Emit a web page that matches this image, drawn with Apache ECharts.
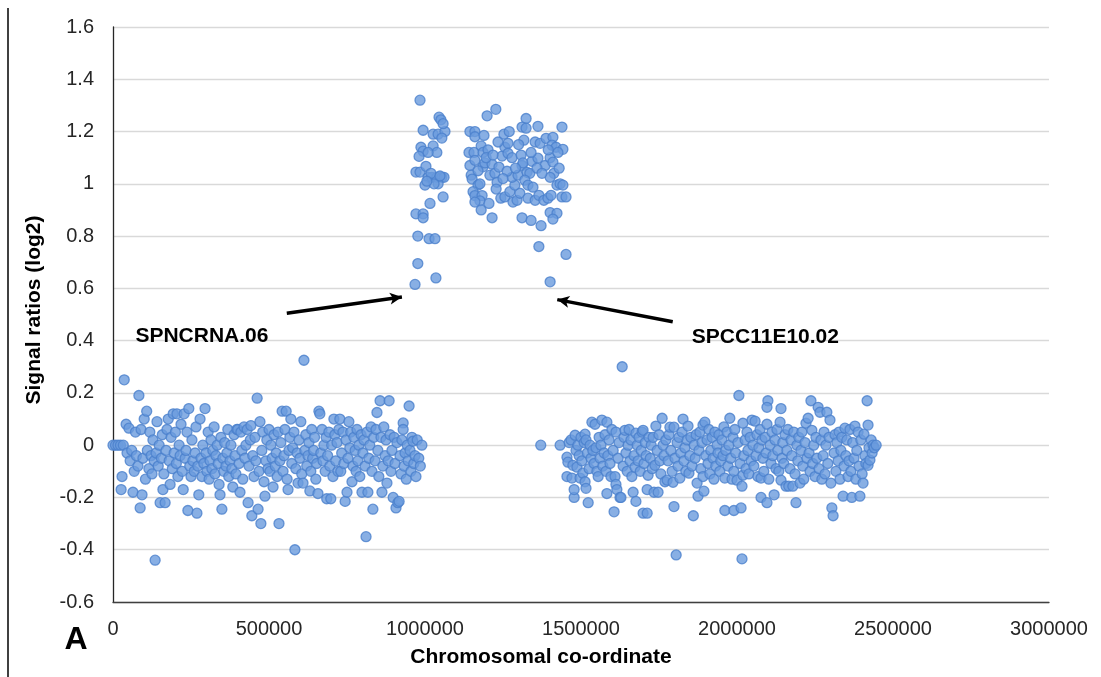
<!DOCTYPE html>
<html>
<head>
<meta charset="utf-8">
<script src="https://cdn.jsdelivr.net/npm/echarts@6/dist/echarts.min.js"></script>
<style>
html,body{margin:0;padding:0;background:#fff;}
#chart{width:1101px;height:677px;}
</style>
</head>
<body>
<div id="chart"></div>
<script>
// Axis ticks
const xTicks = [0, 500000, 1000000, 1500000, 2000000, 2500000, 3000000];
const yTicks = [-0.6, -0.4, -0.2, 0, 0.2, 0.4, 0.6, 0.8, 1, 1.2, 1.4, 1.6];

// [position in kb, signal ratio (log2)] - left arm of chromosome
const leftCluster = [
[0,0],[8,0],[16,0],[24,0],[33,0],[36,0.25],[26,-0.17],[29,-0.12],[42,0.08],[51,0.065],[45,-0.03],[55,-0.06],
[60,-0.02],[64,-0.18],[68,-0.1],[72,0.05],[75,-0.04],[80,-0.08],[83,0.19],[87,-0.24],[90,0.06],[93,-0.19],
[96,-0.05],[100,0.10],[104,-0.13],[108,0.13],[110,-0.02],[115,-0.09],[118,0.05],[122,-0.04],[125,-0.11],
[128,0.02],[132,-0.06],[135,-0.44],[138,-0.03],[141,0.09],[145,-0.08],[148,0.0],[151,-0.22],[155,-0.05],
[158,0.04],[160,-0.17],[163,-0.11],[167,-0.22],[170,-0.02],[173,0.06],[177,0.10],[180,-0.06],[183,-0.15],
[186,0.03],[190,-0.09],[193,0.12],[196,-0.03],[200,0.05],[203,-0.07],[205,0.12],[208,-0.12],[212,0.0],
[215,-0.04],[218,0.08],[222,-0.1],[225,-0.17],[228,0.12],[231,-0.05],[234,-0.02],[237,0.05],[240,-0.25],
[243,0.14],[246,-0.08],[250,-0.12],[253,0.02],[256,-0.06],[260,-0.1],[263,-0.03],[266,0.07],[269,-0.26],
[272,-0.08],[275,-0.19],[279,0.10],[282,-0.05],[285,-0.12],[288,0.0],[291,-0.07],[295,0.14],[298,-0.03],
[301,-0.1],[305,0.05],[308,-0.13],[311,-0.06],[314,0.02],[317,-0.09],[320,-0.02],[324,0.07],[327,-0.11],
[330,-0.04],[334,0.0],[337,-0.07],[340,-0.15],[343,-0.19],[346,0.03],[349,-0.245],[352,-0.05],[355,-0.1],
[358,0.01],[362,-0.08],[365,-0.03],[368,0.06],[371,-0.12],[375,-0.06],[378,0.0],[381,-0.09],[384,-0.16],
[388,0.04],[391,-0.04],[394,-0.11],[397,0.06],[400,0.06],[404,-0.07],[407,-0.18],[410,0.05],[413,-0.02],
[416,-0.13],[420,0.07],[423,-0.05],[426,0.0],[430,0.06],[433,-0.22],[436,-0.08],[440,0.02],[442,0.075],
[445,-0.27],[448,-0.04],[452,-0.12],[455,0.03],[458,-0.06],[462,0.18],[465,-0.245],[468,-0.1],[471,0.09],
[474,-0.30],[477,-0.02],[480,0.05],[484,-0.14],[487,-0.195],[490,-0.06],[493,0.02],[497,-0.09],[500,0.06],
[503,-0.1],[506,0.0],[510,-0.05],[513,-0.16],[516,0.04],[520,-0.08],[523,-0.03],[526,-0.12],[529,0.05],
[532,-0.30],[535,-0.06],[538,0.01],[542,0.13],[545,-0.1],[548,-0.04],[551,0.06],[555,0.13],[558,-0.13],
[561,-0.17],[564,-0.02],[567,0.03],[570,0.10],[573,-0.07],[576,-0.01],[580,0.05],[583,-0.40],[586,-0.09],
[590,-0.03],[593,-0.145],[596,0.02],[599,-0.05],[602,0.09],[605,-0.11],[609,-0.145],[612,0.325],[615,-0.02],
[618,0.04],[621,-0.08],[625,-0.04],[628,0.01],[631,-0.175],[634,-0.1],[637,0.06],[640,-0.05],[643,-0.02],
[646,0.03],[650,-0.13],[653,-0.07],[657,-0.185],[660,0.13],[663,0.12],[666,-0.03],[670,0.06],[673,-0.06],
[676,0.0],[680,-0.1],[683,0.03],[685,-0.205],[688,-0.04],[692,0.05],[695,-0.08],[698,-0.205],[701,0.0],
[705,-0.12],[708,0.10],[711,0.04],[714,-0.06],[718,0.01],[721,-0.1],[724,0.06],[727,0.10],[730,-0.1],
[733,-0.03],[737,0.05],[740,-0.07],[744,-0.215],[747,0.02],[750,-0.18],[753,-0.05],[756,0.09],[759,-0.01],
[762,0.05],[766,-0.14],[769,-0.08],[772,0.03],[776,-0.02],[779,-0.1],[782,0.06],[785,-0.06],[788,0.0],
[791,-0.12],[795,0.04],[798,-0.18],[801,-0.03],[804,0.02],[808,-0.08],[811,-0.35],[814,0.05],[817,-0.18],
[820,-0.05],[823,0.0],[827,0.07],[830,-0.1],[833,-0.245],[836,0.03],[840,-0.06],[843,0.06],[846,0.125],
[849,-0.02],[852,-0.12],[856,0.17],[859,0.03],[862,-0.18],[865,-0.08],[868,0.07],[872,-0.04],[875,0.02],
[878,-0.145],[882,-0.06],[885,0.17],[888,0.04],[891,-0.1],[894,-0.02],[898,-0.2],[901,0.03],[904,-0.07],
[907,-0.24],[910,0.01],[913,-0.22],[917,-0.215],[920,-0.04],[923,-0.11],[926,0.02],[930,0.085],[930,0.06],
[933,-0.08],[936,-0.03],[940,-0.13],[943,0.0],[946,-0.06],[949,0.15],[952,-0.02],[955,-0.1],[958,0.03],
[961,0.015],[964,-0.07],[968,-0.04],[971,-0.12],[975,0.02],[980,-0.05],[985,-0.08],[990,0.0]
];

// amplified region
const midCluster = [
[968,0.615],[977,0.695],[977,0.80],[984,1.32],[971,0.885],[994,0.885],[994,0.87],[1013,0.79],[1032,0.79],
[1035,0.64],[1016,0.925],[1058,0.95],[971,1.045],[984,1.045],[1003,1.067],[1010,1.025],[1022,1.025],
[1038,1.025],[1054,1.025],[1061,1.025],[1000,0.995],[1042,1.0],[987,1.14],[994,1.125],[981,1.105],
[1026,1.145],[1038,1.12],[994,1.205],[1026,1.19],[1042,1.19],[1064,1.20],[1045,1.255],[1051,1.245],
[1058,1.23],[1054,1.175],[1010,1.12],[1019,1.04],[1029,1.0],[1048,1.03],[1006,1.01],
[1199,1.26],[1227,1.285],[1144,1.20],[1160,1.20],[1160,1.18],[1189,1.185],[1141,1.12],[1157,1.12],
[1180,1.145],[1186,1.12],[1202,1.13],[1144,1.07],[1160,1.09],[1186,1.065],[1192,1.08],[1215,1.075],
[1148,1.033],[1151,1.018],[1170,0.995],[1176,1.0],[1154,0.97],[1160,0.955],[1183,0.955],[1176,0.935],
[1160,0.93],[1180,0.9],[1205,0.925],[1215,0.87],[1208,1.033],[1224,1.04],[1231,1.006],[1237,1.064],
[1247,1.106],[1253,1.19],[1256,1.14],[1266,1.155],[1243,0.945],[1256,0.95],[1272,0.97],[1282,0.93],
[1295,0.937],[1304,0.964],[1288,0.995],[1279,1.025],[1263,1.048],[1266,1.117],[1279,1.1],[1308,1.11],
[1311,1.07],[1298,1.033],[1314,1.08],[1324,1.25],[1311,1.217],[1324,1.213],[1317,1.167],[1362,1.22],
[1439,1.217],[1353,1.16],[1369,1.155],[1388,1.174],[1410,1.178],[1407,1.148],[1420,1.14],[1442,1.132],
[1343,1.086],[1362,1.098],[1385,1.07],[1401,1.10],[1410,1.083],[1426,1.12],[1413,1.04],[1401,1.025],
[1327,1.044],[1336,1.04],[1320,1.014],[1330,0.995],[1346,0.987],[1359,1.06],[1375,1.04],[1330,0.945],
[1353,0.937],[1365,0.956],[1381,0.937],[1394,0.945],[1404,0.956],[1423,0.995],[1433,1.0],[1442,0.995],
[1439,0.95],[1452,0.95],[1311,0.87],[1340,0.86],[1372,0.84],[1401,0.89],[1423,0.887],[1410,0.865],
[1365,0.76],[1452,0.73],[1401,0.625],[1170,1.05],[1196,1.1],[1218,1.11],[1234,1.16],[1250,1.02],
[1290,1.06],[1340,1.12],[1395,1.13],[1430,1.06],[1228,0.98],[1270,1.2],[1300,1.15]
];

// right arm of chromosome
const rightCluster = [
[1371,0.0],[1433,0.0],[1455,-0.046],[1458,-0.065],[1455,-0.12],[1462,0.01],[1468,0.02],[1471,-0.126],
[1474,-0.077],[1478,-0.2],[1478,-0.17],[1481,0.038],[1484,-0.02],[1487,-0.084],[1490,0.0],[1494,-0.04],
[1497,-0.126],[1500,0.03],[1503,-0.06],[1506,-0.107],[1510,0.01],[1513,0.042],[1513,-0.14],[1516,-0.165],
[1516,0.02],[1520,-0.03],[1523,-0.22],[1526,-0.09],[1529,0.0],[1532,-0.05],[1535,0.088],[1538,-0.02],
[1542,-0.07],[1545,0.08],[1548,-0.01],[1551,-0.1],[1555,-0.12],[1558,0.03],[1561,-0.05],[1564,0.0],
[1567,0.096],[1570,-0.08],[1574,-0.03],[1577,0.04],[1580,-0.1],[1583,0.088],[1583,-0.185],[1586,-0.04],
[1590,0.02],[1593,-0.07],[1596,-0.12],[1599,0.06],[1603,-0.02],[1606,-0.255],[1609,-0.12],[1612,0.05],
[1612,-0.15],[1615,-0.17],[1619,-0.05],[1622,0.01],[1625,-0.2],[1628,-0.2],[1632,0.30],[1635,-0.08],
[1638,0.03],[1641,0.057],[1644,-0.03],[1648,-0.1],[1651,0.0],[1654,0.06],[1657,-0.06],[1660,0.02],
[1663,-0.12],[1667,-0.18],[1670,-0.04],[1673,-0.084],[1676,0.046],[1676,-0.215],[1680,0.0],[1683,-0.06],
[1686,0.03],[1690,-0.1],[1693,-0.02],[1696,0.05],[1699,0.057],[1699,-0.26],[1702,-0.07],[1706,0.01],
[1709,-0.04],[1712,-0.17],[1712,-0.26],[1715,-0.115],[1718,0.03],[1722,-0.05],[1725,0.0],[1728,-0.09],
[1731,0.03],[1734,-0.18],[1737,-0.077],[1740,0.073],[1744,-0.02],[1747,-0.18],[1750,0.04],[1753,-0.06],
[1756,-0.11],[1760,0.103],[1763,0.0],[1766,-0.04],[1769,-0.14],[1772,0.02],[1776,-0.134],[1779,-0.06],
[1782,0.04],[1785,0.069],[1788,-0.02],[1792,-0.1],[1795,-0.142],[1798,0.069],[1798,-0.235],[1801,-0.05],
[1805,-0.42],[1808,0.01],[1811,-0.08],[1814,0.03],[1817,-0.126],[1820,-0.03],[1824,0.05],[1827,0.1],
[1830,-0.06],[1833,-0.01],[1836,-0.1],[1840,0.02],[1843,0.073],[1846,-0.107],[1849,-0.04],[1852,0.03],
[1856,-0.08],[1860,-0.27],[1863,0.0],[1866,-0.05],[1869,0.04],[1872,-0.145],[1875,-0.195],[1878,-0.02],
[1881,0.05],[1884,-0.09],[1888,0.01],[1891,0.077],[1891,-0.12],[1894,-0.176],[1897,0.088],[1900,-0.04],
[1904,0.02],[1907,-0.07],[1910,0.06],[1913,-0.11],[1916,-0.02],[1920,0.03],[1923,-0.05],[1926,-0.13],
[1929,0.05],[1932,-0.08],[1936,0.0],[1939,-0.03],[1942,0.04],[1945,-0.1],[1948,-0.06],[1952,0.02],
[1955,-0.04],[1958,0.07],[1961,-0.25],[1961,-0.126],[1964,-0.02],[1968,0.05],[1971,-0.08],[1974,0.0],
[1977,0.103],[1980,-0.05],[1984,-0.13],[1987,0.03],[1990,-0.25],[1990,-0.1],[1993,0.06],[1996,-0.03],
[2000,-0.134],[2003,0.01],[2006,0.19],[2010,-0.07],[2013,-0.24],[2016,-0.435],[2016,-0.157],[2019,0.084],
[2019,-0.115],[2022,-0.04],[2026,0.02],[2029,-0.09],[2032,0.05],[2035,-0.02],[2038,-0.11],[2042,0.03],
[2045,-0.06],[2048,0.096],[2051,0.0],[2054,-0.08],[2058,0.092],[2061,-0.04],[2064,0.04],[2067,-0.12],
[2070,-0.01],[2074,0.06],[2077,-0.2],[2077,-0.126],[2080,0.02],[2083,-0.05],[2086,-0.1],[2090,0.03],
[2093,-0.03],[2096,0.08],[2096,-0.22],[2099,0.17],[2096,0.145],[2102,-0.13],[2106,0.0],[2109,-0.07],
[2112,0.05],[2115,-0.04],[2119,-0.19],[2122,0.02],[2125,-0.09],[2128,0.06],[2131,-0.02],[2134,-0.1],
[2138,0.088],[2141,0.14],[2141,-0.134],[2144,-0.05],[2147,0.01],[2150,-0.07],[2154,0.04],[2157,-0.157],
[2160,-0.02],[2163,0.06],[2166,-0.157],[2170,-0.09],[2173,0.02],[2176,-0.04],[2179,-0.157],[2182,0.05],
[2186,-0.11],[2189,-0.22],[2192,0.0],[2195,-0.06],[2198,0.03],[2202,-0.145],[2205,-0.02],[2208,0.05],
[2211,-0.08],[2214,-0.13],[2218,0.01],[2221,0.084],[2224,-0.05],[2228,0.103],[2231,-0.03],[2234,-0.1],
[2237,0.17],[2240,0.057],[2243,-0.07],[2246,0.0],[2250,-0.12],[2253,0.03],[2256,-0.05],[2260,0.145],
[2263,-0.09],[2266,0.126],[2269,0.02],[2272,-0.13],[2276,-0.04],[2279,0.05],[2282,-0.11],[2285,0.0],
[2288,0.126],[2291,-0.07],[2295,0.03],[2298,0.096],[2301,-0.145],[2304,-0.24],[2308,-0.27],[2311,-0.03],
[2314,0.04],[2317,-0.1],[2320,0.01],[2324,-0.06],[2327,0.05],[2330,-0.13],[2333,-0.02],[2336,0.03],
[2340,-0.195],[2343,-0.08],[2346,0.065],[2349,-0.04],[2352,0.02],[2356,-0.12],[2359,-0.06],[2362,0.06],
[2365,-0.1],[2368,-0.2],[2371,0.01],[2375,-0.05],[2378,0.073],[2381,-0.13],[2384,-0.02],[2388,0.05],
[2391,-0.08],[2394,-0.195],[2397,0.02],[2401,-0.11],[2404,-0.145],[2407,0.042],[2410,-0.04],[2413,-0.07],
[2417,0.17],[2420,0.077],[2420,-0.077],[2423,-0.01],[2426,-0.057],[2430,0.02],[2433,-0.03],[2436,0.0],
[2440,-0.01],[2446,0.0]
];

// Annotation labels and arrows: [x (bp), y]
const annotationLabels = [
  { name: 'SPNCRNA.06', coord: [285000, 0.417] },
  { name: 'SPCC11E10.02', coord: [2091000, 0.413] }
];
const annotationArrows = [
  [[557000, 0.505], [926000, 0.567]],
  [[1794000, 0.472], [1424000, 0.557]]
];

const FONT = "'Liberation Sans', Arial, sans-serif";
const points = leftCluster.concat(midCluster, rightCluster).map(p => [p[0] * 1000, p[1]]);

const chart = echarts.init(document.getElementById('chart'), null, { renderer: 'canvas' });
chart.setOption({
  animation: false,
  backgroundColor: '#ffffff',
  grid: { left: 113, right: 52, top: 27, bottom: 75, containLabel: false },
  xAxis: {
    type: 'value',
    min: xTicks[0], max: xTicks[xTicks.length - 1], interval: 500000,
    axisLine: { show: true, onZero: false, lineStyle: { color: '#404040', width: 1.3 } },
    axisTick: { show: false },
    splitLine: { show: false },
    axisLabel: { color: '#262626', fontSize: 20, fontFamily: FONT, margin: 17, formatter: v => String(v) }
  },
  yAxis: {
    type: 'value',
    min: yTicks[0], max: yTicks[yTicks.length - 1], interval: 0.2,
    axisLine: { show: true, lineStyle: { color: '#262626', width: 1.3 } },
    axisTick: { show: false },
    splitLine: { show: true, lineStyle: { color: '#d9d9d9', width: 1.3 } },
    axisLabel: { color: '#262626', fontSize: 20, fontFamily: FONT, margin: 19,
      formatter: v => String(parseFloat(v.toFixed(1))) }
  },
  series: [{
    type: 'scatter',
    data: points,
    symbol: 'circle',
    symbolSize: 10,
    itemStyle: { color: '#6a9bdd', borderColor: '#4a7fcc', borderWidth: 1.3 },
    markLine: {
      silent: true,
      symbol: ['none', 'arrow'],
      symbolSize: [9, 12],
      lineStyle: { color: '#000', width: 3.5, type: 'solid' },
      label: { show: false },
      data: annotationArrows.map(a => [{ coord: a[0] }, { coord: a[1] }])
    },
    markPoint: {
      silent: true,
      symbol: 'circle',
      symbolSize: 1,
      itemStyle: { color: 'rgba(0,0,0,0)' },
      label: { show: true, position: 'inside', formatter: '{b}', color: '#000',
        fontSize: 21, fontWeight: 'bold', fontFamily: FONT },
      data: annotationLabels.map(a => ({ name: a.name, coord: a.coord }))
    }
  }],
  graphic: [
    { type: 'line', shape: { x1: 8, y1: 8, x2: 8, y2: 677 }, style: { stroke: '#000', lineWidth: 1.5 } },
    { type: 'text', x: 34, y: 310, rotation: Math.PI / 2,
      style: { text: 'Signal ratios (log2)', font: "bold 21px " + FONT, fill: '#000',
        textAlign: 'center', textVerticalAlign: 'middle' } },
    { type: 'text', x: 541, y: 657,
      style: { text: 'Chromosomal co-ordinate', font: "bold 21px " + FONT, fill: '#000',
        textAlign: 'center', textVerticalAlign: 'middle' } },
    { type: 'text', x: 76, y: 640,
      style: { text: 'A', font: "bold 32px " + FONT, fill: '#000',
        textAlign: 'center', textVerticalAlign: 'middle' } }
  ]
});
</script>
</body>
</html>
